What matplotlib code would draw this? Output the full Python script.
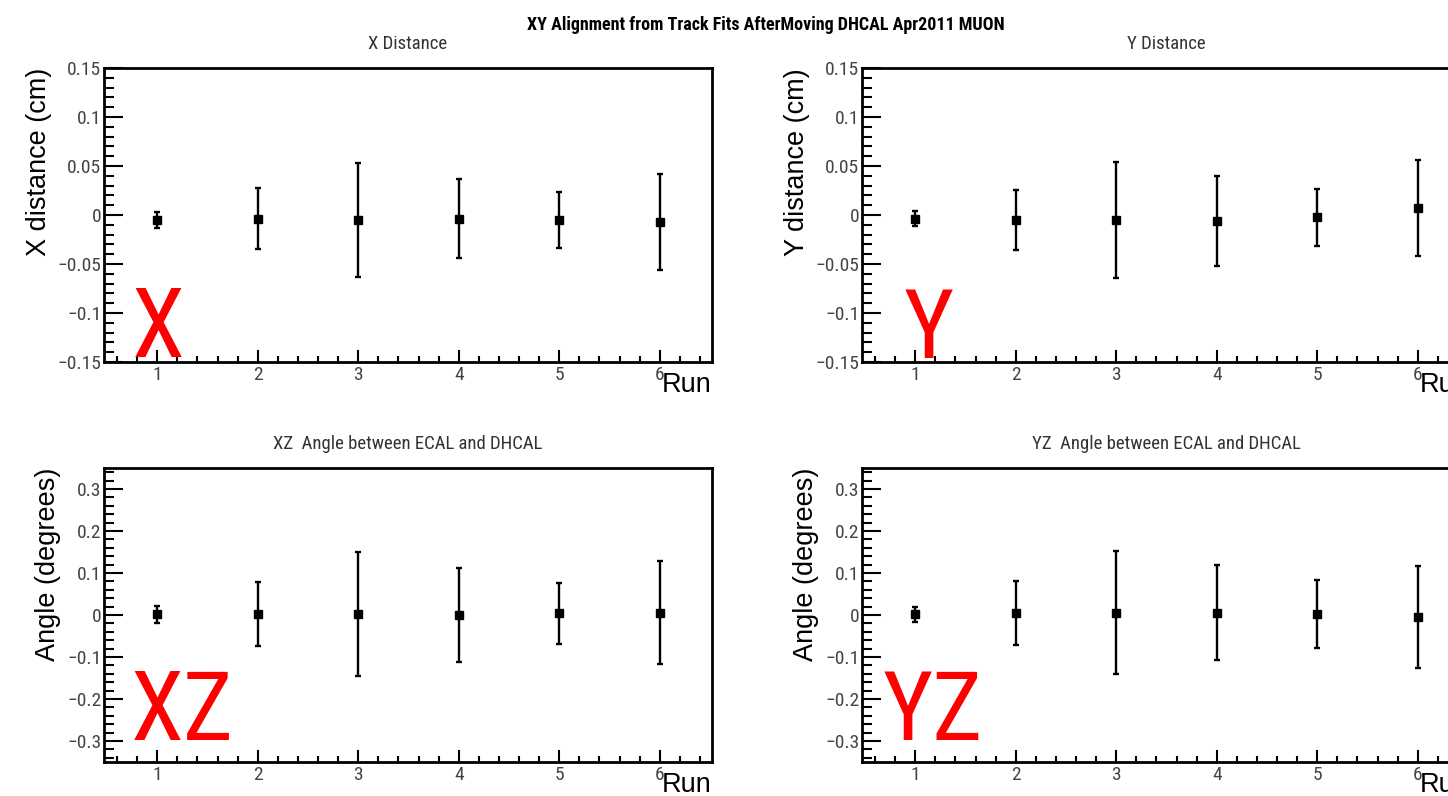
import matplotlib
matplotlib.use("Agg")
import matplotlib.pyplot as plt
from matplotlib.ticker import MultipleLocator, FuncFormatter

runs = [1, 2, 3, 4, 5, 6]

x_dist = [-0.0051, -0.0037, -0.0051, -0.0037, -0.0051, -0.0071]
x_dist_err = [0.0077, 0.031, 0.0586, 0.0405, 0.029, 0.049]

y_dist = [-0.0037, -0.0051, -0.0051, -0.0064, -0.0024, 0.0068]
y_dist_err = [0.008, 0.0305, 0.0587, 0.046, 0.029, 0.049]

xz_angle = [0.002, 0.002, 0.002, 0.0, 0.004, 0.0055]
xz_angle_err = [0.020, 0.076, 0.147, 0.112, 0.072, 0.1225]

yz_angle = [0.002, 0.0055, 0.0055, 0.0055, 0.002, -0.005]
yz_angle_err = [0.018, 0.0765, 0.147, 0.1135, 0.0805, 0.1215]

narrow = ["Roboto Condensed", "Liberation Sans Narrow", "Liberation Sans", "DejaVu Sans"]
plt.rcParams["font.family"] = ["Liberation Sans", "DejaVu Sans"]

W, H = 1448, 796
fig = plt.figure(figsize=(W / 100, H / 100), dpi=100)

def frac(l, t, r, b):
    return [l / W, 1 - b / H, (r - l) / W, (b - t) / H]

def root_fmt(v, pos):
    s = "%g" % round(v, 6)
    if s in ("-0", "0"):
        return "0"
    return s.replace("-", "\u2212")

panels = [
    (frac(104, 68, 712, 362), x_dist, x_dist_err, "X Distance", "X distance (cm)",
     (-0.15, 0.15), 0.05, 0.01, "X", (0.046, 0.017)),
    (frac(862, 68, 1470, 362), y_dist, y_dist_err, "Y Distance", "Y distance (cm)",
     (-0.15, 0.15), 0.05, 0.01, "Y", (0.068, 0.014)),
    (frac(104, 468, 712, 762), xz_angle, xz_angle_err, "XZ  Angle between ECAL and DHCAL",
     "Angle (degrees)", (-0.35, 0.35), 0.1, 0.02, "XZ", (0.044, 0.075)),
    (frac(862, 468, 1470, 762), yz_angle, yz_angle_err, "YZ  Angle between ECAL and DHCAL",
     "Angle (degrees)", (-0.35, 0.35), 0.1, 0.02, "YZ", (0.034, 0.075)),
]

for rect, vals, errs, title, ylab, ylim, major, minor, tag, tagpos in panels:
    ax = fig.add_axes(rect)
    ax.errorbar(runs, vals, yerr=errs, fmt="s", color="black", ms=6,
                elinewidth=1.7, capsize=2, capthick=1.7)
    ax.set_xlim(0.47, 6.52)
    ax.set_ylim(*ylim)
    ax.xaxis.set_major_locator(MultipleLocator(1))
    ax.xaxis.set_minor_locator(MultipleLocator(0.2))
    ax.yaxis.set_major_locator(MultipleLocator(major))
    ax.yaxis.set_minor_locator(MultipleLocator(minor))
    ax.yaxis.set_major_formatter(FuncFormatter(root_fmt))
    ax.tick_params(axis="y", which="major", direction="in", length=14, width=1.5,
                   pad=2, labelsize=14, labelcolor="#444444")
    ax.tick_params(axis="y", which="minor", direction="in", length=7, width=1.5)
    ax.tick_params(axis="x", which="major", direction="in", length=9, width=1.5,
                   pad=3, labelsize=14, labelcolor="#444444")
    ax.tick_params(axis="x", which="minor", direction="in", length=4.5, width=1.5)
    for lab in ax.get_xticklabels() + ax.get_yticklabels():
        lab.set_family(narrow)
    for s in ax.spines.values():
        s.set_linewidth(2)
    ax.set_ylabel(ylab, fontsize=19.5, loc="top", labelpad=4)
    ax.text(1.0, -0.034, "Run", transform=ax.transAxes, ha="right", va="top",
            fontsize=19.5)
    ax.set_title(title, fontsize=13.5, color="#333333", family=narrow, pad=14)
    ax.text(tagpos[0], tagpos[1], tag, transform=ax.transAxes, ha="left",
            va="baseline", fontsize=69, color="#ff0000", family=narrow)

fig.text(766 / W, 1 - 25 / H, "XY Alignment from Track Fits AfterMoving DHCAL Apr2011 MUON",
         ha="center", va="center", fontsize=13, fontweight="bold", family=narrow)

fig.savefig("out.png", dpi=100)
